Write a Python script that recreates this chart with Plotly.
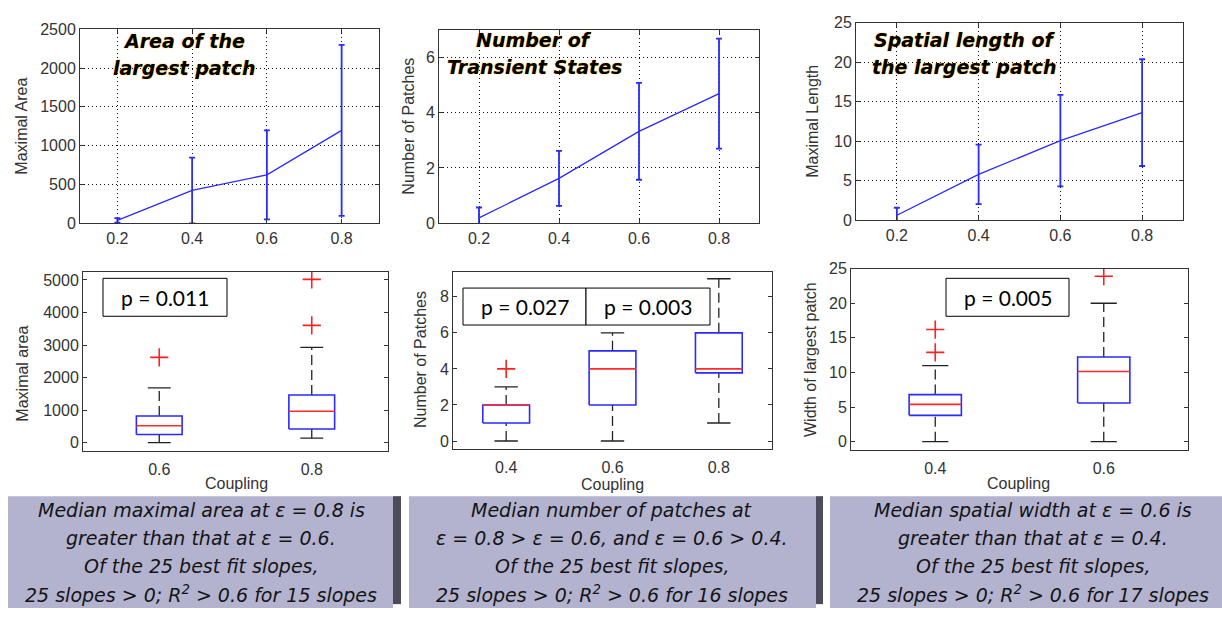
import plotly.graph_objects as go

W, H = 1222, 617

# ---------------- data ----------------
COUPLING = [0.2, 0.4, 0.6, 0.8]
COUPLING_TICKS = ["0.2", "0.4", "0.6", "0.8"]

AREA_MEAN = [33, 419, 621, 1195]
AREA_SD = [30, 424, 575, 1105]
PATCH_MEAN = [0.18, 1.62, 3.33, 4.70]
PATCH_SD = [0.38, 1.0, 1.76, 2.0]
LENGTH_MEAN = [0.6, 5.77, 10.05, 13.6]
LENGTH_SD = [0.95, 3.77, 5.8, 6.76]

AREA_CATS = ["0.6", "0.8"]
AREA_Q1 = [250, 418]
AREA_MED = [518, 966]
AREA_Q3 = [817, 1464]
AREA_LO = [0, 139]
AREA_HI = [1683, 2928]
AREA_OUT_CAT = [0, 1, 1]
AREA_OUT_VAL = [2620, 3606, 5020]

PATCH_CATS = ["0.4", "0.6", "0.8"]
PATCH_Q1 = [1, 2, 3.78]
PATCH_MED = [2, 4, 4]
PATCH_Q3 = [2, 5, 6]
PATCH_LO = [0, 0, 1]
PATCH_HI = [3, 6, 9]
PATCH_OUT_CAT = [0]
PATCH_OUT_VAL = [4]

WIDTH_CATS = ["0.4", "0.6"]
WIDTH_Q1 = [3.8, 5.58]
WIDTH_MED = [5.39, 10.13]
WIDTH_Q3 = [6.8, 12.24]
WIDTH_LO = [0, 0]
WIDTH_HI = [11, 20]
WIDTH_OUT_CAT = [0, 0, 1]
WIDTH_OUT_VAL = [12.9, 16.2, 23.9]

TOP_TITLES = [["Area of the", "largest patch"],
              ["Number of", "Transient States"],
              ["Spatial length of", "the largest patch"]]
Y_TITLES = ["Maximal Area", "Number of Patches", "Maximal Length",
            "Maximal area", "Number of Patches", "Width of largest patch"]
P_TEXTS = ["p = 0.011", "p = 0.027", "p = 0.003", "p = 0.005"]
PANEL_TEXTS = [
    ["Median maximal area at ε = 0.8 is", "greater than that at ε = 0.6.",
     "Of the 25 best fit slopes,", "25 slopes > 0; R<sup>2</sup> > 0.6 for 15 slopes"],
    ["Median number of patches at", "ε = 0.8 > ε = 0.6, and ε = 0.6 > 0.4.",
     "Of the 25 best fit slopes,", "25 slopes > 0; R<sup>2</sup> > 0.6 for 16 slopes"],
    ["Median spatial width at ε = 0.6 is", "greater than that at ε = 0.4.",
     "Of the 25 best fit slopes,", "25 slopes > 0; R<sup>2</sup> > 0.6 for 17 slopes"],
]

# ---------------- helpers ----------------
def fx(x):
    return x / W


def fy(y):
    return 1 - y / H


BLUE = "#2a2aff"
TICKFONT = dict(family="Liberation Sans", size=16, color="#333")

fig = go.Figure()

# ---- top row: mean +- sd line plots ----
top_sets = [(AREA_MEAN, AREA_SD), (PATCH_MEAN, PATCH_SD), (LENGTH_MEAN, LENGTH_SD)]
for i, (m, s) in enumerate(top_sets):
    n = i + 1
    fig.add_trace(go.Scatter(
        x=COUPLING, y=m, mode="lines",
        line=dict(color=BLUE, width=1.3),
        error_y=dict(type="data", array=s, visible=True, color=BLUE,
                     thickness=1.8, width=3),
        xaxis=f"x{n}", yaxis=f"y{n}", showlegend=False, hoverinfo="skip"))


# ---- bottom row: box plots ----
def add_box(n, cats, q1, med, q3, lo, hi, oc, ov, hw):
    xa, ya = f"x{n}", f"y{n}"
    bx, by, mx, my, wx, wy, cx, cy = [], [], [], [], [], [], [], []
    for i in range(len(cats)):
        p = i + 1
        bx += [p - hw, p + hw, p + hw, p - hw, p - hw, None]
        by += [q1[i], q1[i], q3[i], q3[i], q1[i], None]
        mx += [p - hw, p + hw, None]
        my += [med[i], med[i], None]
        wx += [p, p, None, p, p, None]
        wy += [q3[i], hi[i], None, lo[i], q1[i], None]
        cx += [p - hw / 2, p + hw / 2, None, p - hw / 2, p + hw / 2, None]
        cy += [hi[i], hi[i], None, lo[i], lo[i], None]
    common = dict(xaxis=xa, yaxis=ya, showlegend=False, hoverinfo="skip", mode="lines")
    fig.add_trace(go.Scatter(x=wx, y=wy, line=dict(color="#222", width=1.3, dash="10px,5px"), **common))
    fig.add_trace(go.Scatter(x=cx, y=cy, line=dict(color="#222", width=1.3), **common))
    fig.add_trace(go.Scatter(x=bx, y=by, line=dict(color=BLUE, width=1.6), **common))
    fig.add_trace(go.Scatter(x=mx, y=my, line=dict(color="#ff2a2a", width=1.6), **common))
    fig.add_trace(go.Scatter(
        x=[c + 1 for c in oc], y=ov, mode="markers",
        marker=dict(symbol="cross-thin", size=13, line=dict(color="#ff2020", width=1.6)),
        xaxis=xa, yaxis=ya, showlegend=False, hoverinfo="skip"))


add_box(4, AREA_CATS, AREA_Q1, AREA_MED, AREA_Q3, AREA_LO, AREA_HI, AREA_OUT_CAT, AREA_OUT_VAL, 0.15)
add_box(5, PATCH_CATS, PATCH_Q1, PATCH_MED, PATCH_Q3, PATCH_LO, PATCH_HI, PATCH_OUT_CAT, PATCH_OUT_VAL, 0.22)
add_box(6, WIDTH_CATS, WIDTH_Q1, WIDTH_MED, WIDTH_Q3, WIDTH_LO, WIDTH_HI, WIDTH_OUT_CAT, WIDTH_OUT_VAL, 0.155)

# ---------------- axes ----------------
boxes = {
    1: (80, 379, 22, 221),
    2: (439, 759, 23, 221),
    3: (856, 1183, 15, 218),
    4: (83, 388, 271, 456),
    5: (453, 772, 271, 454),
    6: (851, 1188, 268, 455),
}
yranges = {1: [0, 2500], 2: [0, 7], 3: [0, 25],
           4: [-270, 5260], 5: [-0.47, 9.4], 6: [-1.27, 25]}
ydticks = {1: 500, 2: 2, 3: 5, 4: 1000, 5: 2, 6: 5}
cats_of = {4: AREA_CATS, 5: PATCH_CATS, 6: WIDTH_CATS}

base = dict(showline=True, linecolor="#333", linewidth=1, mirror="allticks",
            ticks="inside", ticklen=4, tickcolor="#333", tickfont=TICKFONT,
            zeroline=False, fixedrange=True)
grid = dict(showgrid=True, griddash="1px,3px", gridcolor="#111", gridwidth=1)

for n, (l, r, t, b) in boxes.items():
    xk = "xaxis" if n == 1 else f"xaxis{n}"
    yk = "yaxis" if n == 1 else f"yaxis{n}"
    if n <= 3:
        xa = dict(base, **grid, domain=[fx(l), fx(r)], range=[0.1, 0.9], tickvals=COUPLING,
                  ticktext=COUPLING_TICKS, anchor=f"y{n}", ticklabelstandoff=1)
        ya = dict(base, **grid, domain=[fy(b), fy(t)], range=yranges[n], dtick=ydticks[n],
                  tick0=0, anchor=f"x{n}")
    else:
        cats = cats_of[n]
        xa = dict(base, domain=[fx(l), fx(r)], range=[0.5, len(cats) + 0.5],
                  tickvals=list(range(1, len(cats) + 1)), ticktext=cats,
                  showgrid=False, ticks="", anchor=f"y{n}", ticklabelstandoff=3)
        ya = dict(base, domain=[fy(b), fy(t)], range=yranges[n], dtick=ydticks[n], tick0=0,
                  showgrid=False, anchor=f"x{n}")
    fig.layout[xk] = xa
    fig.layout[yk] = ya

annotations = []
shapes = []

# top titles
title_pos = [(184, 34, 62), (534, 33, 61), (964, 33, 61)]
for (cxp, y1, y2), lines in zip(title_pos, TOP_TITLES):
    for yy, txt in zip((y1, y2), lines):
        annotations.append(dict(
            x=fx(cxp), y=fy(yy), xref="paper", yref="paper", text=txt, showarrow=False,
            xanchor="center", yanchor="middle",
            font=dict(family="DejaVu Sans", size=19, color="black", style="italic",
                      weight="bold", shadow="0px 0px 1.5px #f5b000")))

# y-axis titles
ytitle_pos = [(22, 122), (409, 122), (813, 117), (23, 376), (420, 362), (810, 362)]
for (xp, yp), txt in zip(ytitle_pos, Y_TITLES):
    annotations.append(dict(
        x=fx(xp), y=fy(yp), xref="paper", yref="paper", text=txt, showarrow=False,
        textangle=-90, xanchor="center", yanchor="middle",
        font=dict(family="Liberation Sans", size=16, color="#333")))

# x-axis titles (bottom row)
for xp, yp in [(236, 489), (612, 490), (1018, 489)]:
    annotations.append(dict(
        x=fx(xp), y=fy(yp), xref="paper", yref="paper", text="Coupling", showarrow=False,
        xanchor="center", yanchor="middle",
        font=dict(family="Liberation Sans", size=16, color="#333")))

# p-value boxes
p_boxes = [(103, 227, 278, 317), (463, 586, 288, 326), (586, 710, 288, 326), (946, 1069, 278, 317)]
for (l, r, t, b), txt in zip(p_boxes, P_TEXTS):
    shapes.append(dict(type="rect", xref="paper", yref="paper",
                       x0=fx(l), x1=fx(r), y0=fy(b), y1=fy(t),
                       line=dict(color="black", width=1), fillcolor="white", layer="above"))
    annotations.append(dict(
        x=fx((l + r) / 2), y=fy((t + b) / 2), xref="paper", yref="paper", text=txt,
        showarrow=False, xanchor="center", yanchor="middle",
        font=dict(family="Lato", size=21, color="black")))

# bottom lavender panels
LAV = "#b3b3cf"
DARK = "#4c4c5a"
for (l, r) in [(8, 393), (409, 816), (830, 1222)]:
    shapes.append(dict(type="rect", xref="paper", yref="paper", x0=fx(l), x1=fx(r),
                       y0=fy(617), y1=fy(502), line=dict(width=0), fillcolor=LAV, layer="below"))
for (l, r) in [(393, 401), (816, 823)]:
    shapes.append(dict(type="rect", xref="paper", yref="paper", x0=fx(l), x1=fx(r),
                       y0=fy(613), y1=fy(502), line=dict(width=0), fillcolor=DARK, layer="below"))

panel_centers = [201, 612, 1033]
line_ys = [516, 545, 574, 603]
for cxp, lines in zip(panel_centers, PANEL_TEXTS):
    for yy, txt in zip(line_ys, lines):
        annotations.append(dict(
            x=fx(cxp), y=fy(yy), xref="paper", yref="paper", text=txt, showarrow=False,
            xanchor="center", yanchor="middle",
            font=dict(family="DejaVu Sans", size=19, color="#141414", style="italic")))

fig.update_layout(
    width=W, height=H, margin=dict(l=0, r=0, t=0, b=0),
    paper_bgcolor="white", plot_bgcolor="white",
    annotations=annotations, shapes=shapes, showlegend=False,
)

fig.write_html("out.html", config={"displayModeBar": False})
